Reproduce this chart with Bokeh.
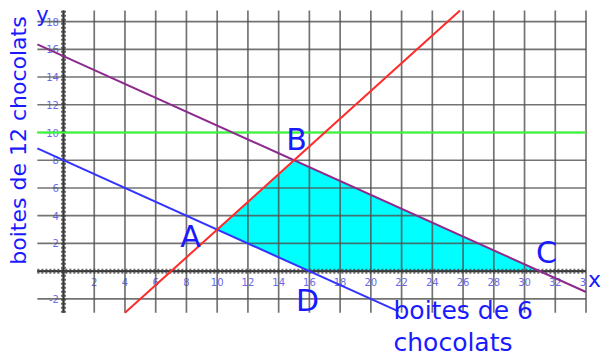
import numpy as np
from bokeh.plotting import figure
from bokeh.models import Range1d
from bokeh.embed import file_html
from bokeh.resources import INLINE
from bokeh.core.properties import value

# ---- data ----
x_ticks = [2, 4, 6, 8, 10, 12, 14, 16, 18, 20, 22, 24, 26, 28, 30, 32, 34]
x_tick_labels = [str(v) for v in x_ticks]
y_ticks = [-2, 2, 4, 6, 8, 10, 12, 14, 16, 18]
y_tick_labels = [str(v) for v in y_ticks]
grid_x = [0, 2, 4, 6, 8, 10, 12, 14, 16, 18, 20, 22, 24, 26, 28, 30, 32, 34]
grid_y = [-2, 0, 2, 4, 6, 8, 10, 12, 14, 16, 18]

red_x = [4, 25.8]
red_y = [-3, 18.8]
blue_x = [-1.7, 21.8]
blue_y = [8.85, -2.9]
purple_x = [-1.7, 34]
purple_y = [16.35, -1.5]
green_x = [-1.7, 34]
green_y = [10, 10]

region_x = [10, 15, 31, 16]
region_y = [3, 8, 0, 0]
point_names = ["A", "B", "C", "D"]

x_label = "boites de 6"
x_label2 = "chocolats"
y_label = "boites de 12 chocolats"

# ---- layout ----
W, H = 601, 358
SX, SY = 15.368, 13.87     # px per unit
OX, OY = 63, 270.7          # picture px of origin
X0 = -OX / SX
X1 = X0 + W / SX
Y1 = OY / SY
Y0 = Y1 - H / SY
GX0, GX1, GY0, GY1 = -1.7, 34, -3, 18.8

def dx(px):
    return (px - OX) / SX

def dy(py):
    return (OY - py) / SY

FONT = value("DejaVu Sans")
BLUE = "#1a1aff"

p = figure(width=W, height=H, output_backend="svg", toolbar_location=None,
           x_range=Range1d(X0, X1), y_range=Range1d(Y0, Y1),
           x_axis_type=None, y_axis_type=None, min_border=0,
           outline_line_color=None, background_fill_color="white",
           border_fill_color="white")

# feasible region
p.patch(region_x, region_y, fill_color="#00ffff", line_color=None)

# tick labels
p.text(x=x_ticks, y=[-0.8] * len(x_ticks), text=x_tick_labels,
       text_font=FONT, text_font_size="10px", text_color="#6a6aee",
       text_align="center", text_baseline="middle")
p.text(x=[-0.3] * len(y_ticks), y=y_ticks, text=y_tick_labels,
       text_font=FONT, text_font_size="10px", text_color="#6a6aee",
       text_align="right", text_baseline="middle")
# clip right edge
p.quad(left=[34.0], right=[X1], bottom=[-1.6], top=[-0.1],
       fill_color="white", line_color=None)

# grid
p.multi_line(xs=[[g, g] for g in grid_x], ys=[[GY0, GY1]] * len(grid_x),
             line_color="#505050", line_alpha=0.8, line_width=1.7)
p.multi_line(xs=[[GX0, GX1]] * len(grid_y), ys=[[g, g] for g in grid_y],
             line_color="#505050", line_alpha=0.8, line_width=1.7)

# axes with dense ticks
p.line([GX0, GX1], [0, 0], line_color="#333333", line_width=2)
p.line([GX0, GX1], [0, 0], line_color="#444444", line_width=5, line_dash="2 2", line_alpha=0.8)
p.line([0, 0], [GY0, GY1], line_color="#333333", line_width=2)
p.line([0, 0], [GY0, GY1], line_color="#444444", line_width=5, line_dash="2 2", line_alpha=0.8)

# constraint lines
p.line(green_x, green_y, line_color="#33ff33", line_width=2.2)
p.line(blue_x, blue_y, line_color="#3333ff", line_width=2)
p.line(purple_x, purple_y, line_color="#8e2a8e", line_width=2)
p.line(red_x, red_y, line_color="#ff2a2a", line_width=2)

# point letters
letter_px = [(190, 236), (296, 139), (546, 252), (307, 300)]
p.text(x=[dx(a) for a, b in letter_px], y=[dy(b) for a, b in letter_px],
       text=point_names, text_font=FONT, text_font_size="30px",
       text_color=BLUE, text_align="center", text_baseline="middle")

# axis names
p.text(x=[dx(42)], y=[dy(14)], text=["y"], text_font=FONT, text_font_size="21px",
       text_color=BLUE, text_align="center", text_baseline="middle")
p.text(x=[dx(594)], y=[dy(279)], text=["x"], text_font=FONT, text_font_size="22px",
       text_color=BLUE, text_align="center", text_baseline="middle")
p.text(x=[dx(393)], y=[dy(310)], text=[x_label], text_font=FONT, text_font_size="25px",
       text_color=BLUE, text_align="left", text_baseline="alphabetic")
p.text(x=[dx(393)], y=[dy(342)], text=[x_label2], text_font=FONT, text_font_size="25px",
       text_color=BLUE, text_align="center" if False else "left", text_baseline="middle")
p.text(x=[dx(18)], y=[dy(140)], text=[y_label], angle=np.pi / 2, text_font=FONT,
       text_font_size="22px", text_color=BLUE, text_align="center", text_baseline="middle")

open("out.html", "w").write(file_html(p, INLINE))
